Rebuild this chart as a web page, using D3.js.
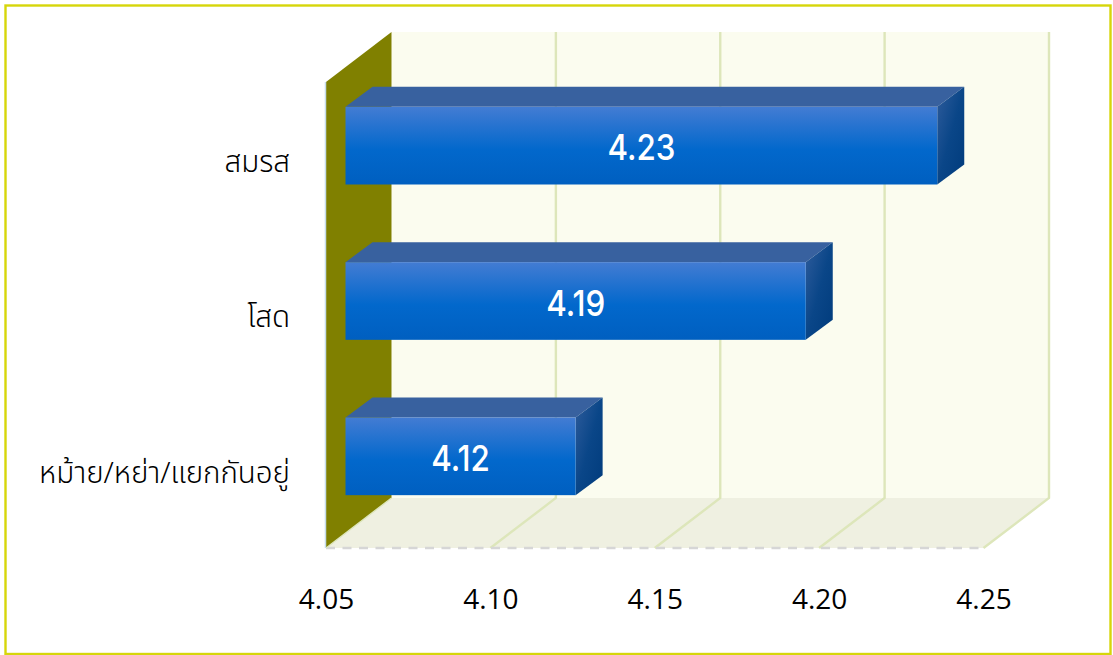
<!DOCTYPE html>
<html><head><meta charset="utf-8">
<script src="https://cdn.jsdelivr.net/npm/d3@7"></script>
<style>html,body{margin:0;padding:0;background:#fff}svg{display:block}</style></head>
<body><svg id="c" width="1113" height="655"></svg>
<script>
const categories = ["สมรส", "โสด", "หม้าย/หย่า/แยกกันอยู่"];
const values = [4.23, 4.19, 4.12];
const xTicks = [4.05, 4.10, 4.15, 4.20, 4.25];
const domainX = [4.05, 4.25];

const svg = d3.select("#c");
const x = d3.scaleLinear().domain(domainX).range([326, 983.5]);
const y = d3.scaleBand().domain(categories).range([82, 548]).paddingInner(0.5).paddingOuter(0.25);
const wallDX = 65.5, wallDY = -50, barOX = 19.5, barOY = -14, barDX = 27, barDY = -20;
const x0 = x.range()[0], x1 = x.range()[1], yT = y.range()[0], yB = y.range()[1];
const pts = a => a.map(p => p.join(",")).join(" ");

const defs = svg.append("defs");
const gf = defs.append("linearGradient").attr("id","front").attr("x1",0).attr("x2",0).attr("y1",0).attr("y2",1);
[[0,"#437cd3"],[0.55,"#0268cc"],[1,"#005fc0"]].forEach(s=>gf.append("stop").attr("offset",s[0]).attr("stop-color",s[1]));
const gs = defs.append("linearGradient").attr("id","side").attr("x1",0).attr("x2",1).attr("y1",0).attr("y2",1);
[[0,"#2f5c9c"],[0.5,"#0a4688"],[1,"#003b7c"]].forEach(s=>gs.append("stop").attr("offset",s[0]).attr("stop-color",s[1]));

svg.append("rect").attr("x",5.5).attr("y",5.5).attr("width",1105).attr("height",648.5)
  .attr("fill","#fff").attr("stroke","#d6d60a").attr("stroke-width",2.4);

// back wall
svg.append("rect").attr("x",x0+wallDX).attr("y",yT+wallDY).attr("width",x1-x0).attr("height",yB-yT)
  .attr("fill","#fbfcef");
// floor
svg.append("polygon").attr("points",pts([[x0,yB],[x1,yB],[x1+wallDX,yB+wallDY],[x0+wallDX,yB+wallDY]]))
  .attr("fill","#eff0e1");
// grid on wall and floor
xTicks.forEach(t=>{
  if (t!==domainX[0]) svg.append("polyline").attr("fill","none").attr("stroke","#dde6ba").attr("stroke-width",2.4)
    .attr("points",pts([[x(t)+wallDX,yT+wallDY],[x(t)+wallDX,yB+wallDY],[x(t),yB]]));
});
// floor front dashed edge
svg.append("line").attr("x1",x0).attr("x2",x1).attr("y1",yB).attr("y2",yB)
  .attr("stroke","#d6d6d6").attr("stroke-width",2.6).attr("stroke-dasharray","9 7.5");
// left wall
svg.append("polygon").attr("points",pts([[x0,yT],[x0+wallDX,yT+wallDY],[x0+wallDX,yB+wallDY],[x0,yB]]))
  .attr("fill","#808000");
svg.append("line").attr("x1",x0).attr("x2",x0+wallDX).attr("y1",yB).attr("y2",yB+wallDY)
  .attr("stroke","#dde6ba").attr("stroke-width",1.4);
svg.append("line").attr("x1",x0-0.5).attr("x2",x0-0.5).attr("y1",yT).attr("y2",yB)
  .attr("stroke","#c5dcea").attr("stroke-width",1.5);

// bars
const bars = svg.selectAll("g.bar").data(categories.map((c,i)=>({c,v:values[i]}))).join("g").attr("class","bar");
const L = x0+barOX;
bars.each(function(d){
  const g = d3.select(this);
  const R = x(d.v)+barOX, T = y(d.c)+barOY, B = T+y.bandwidth();
  g.append("polygon").attr("fill","#38619f")
    .attr("points",pts([[L,T],[R,T],[R+barDX,T+barDY],[L+barDX,T+barDY]]));
  g.append("polygon").attr("fill","url(#side)")
    .attr("points",pts([[R,T],[R+barDX,T+barDY],[R+barDX,B+barDY],[R,B]]));
  g.append("rect").attr("x",L).attr("y",T).attr("width",R-L).attr("height",B-T).attr("fill","url(#front)");
  g.append("text").attr("transform",`translate(${(L+R)/2},${(T+B)/2+14.5}) scale(0.87,1)`).attr("text-anchor","middle")
    .attr("fill","#fff").style("font","500 36px Inter,sans-serif").text(d.v.toFixed(2));
});

// axes
const ax = svg.append("g").attr("transform",`translate(0,${yB})`)
  .call(d3.axisBottom(x).tickValues(xTicks).tickFormat(d3.format(".2f")).tickSize(0).tickPadding(41));
ax.select(".domain").remove();
ax.selectAll("text").attr("fill","#000").style("font","500 28px 'Open Sans',sans-serif");
const ay = svg.append("g").attr("transform",`translate(${x0},3)`)
  .call(d3.axisLeft(y).tickSize(0).tickPadding(36));
ay.select(".domain").remove();
ay.selectAll("text").attr("fill","#000").style("font","300 29.5px 'Noto Sans','Noto Sans Thai',sans-serif");
</script></body></html>
